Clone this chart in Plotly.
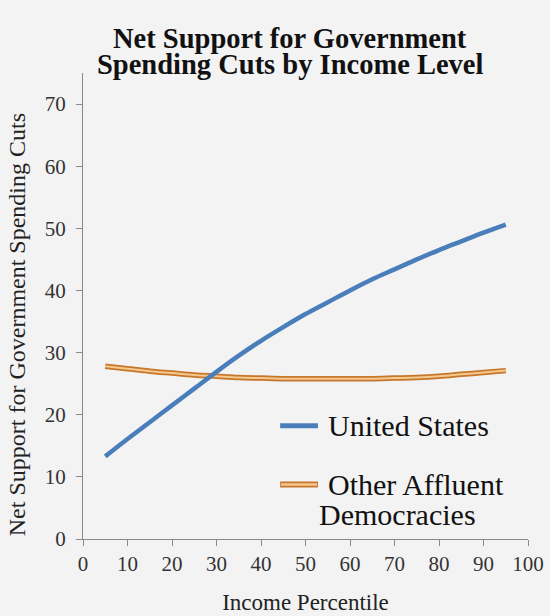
import plotly.graph_objects as go

# income percentile (x) and net support values
percentile = [5, 10, 15, 20, 25, 30, 35, 40, 45, 50, 55, 60, 65, 70, 75, 80, 85, 90, 95]
us_support = [13.3, 16.1, 18.8, 21.5, 24.2, 26.9, 29.5, 31.9, 34.1, 36.2,
              38.1, 40.0, 41.8, 43.4, 45.0, 46.5, 47.9, 49.3, 50.6]
other_support = [27.8, 27.4, 27.0, 26.7, 26.4, 26.2, 26.0, 25.9, 25.8, 25.8,
                 25.8, 25.8, 25.8, 25.9, 26.0, 26.2, 26.5, 26.8, 27.1]

x_ticks = list(range(0, 101, 10))
y_ticks = list(range(0, 71, 10))

title_lines = ["Net Support for Government", "Spending Cuts by Income Level"]

BG = "#F3F3F3"
BLUE = "#4A7EBB"
ORANGE_EDGE = "#C6772C"
ORANGE_FILL = "#F6C88C"
SERIF = "Liberation Serif"

fig = go.Figure()

fig.add_trace(go.Scatter(x=percentile, y=other_support, mode="lines",
                         line=dict(color=ORANGE_EDGE, width=5.5, shape="spline"),
                         showlegend=False, hoverinfo="skip"))
fig.add_trace(go.Scatter(x=percentile, y=other_support, mode="lines",
                         line=dict(color=ORANGE_FILL, width=2, shape="spline"),
                         name="Other Affluent Democracies", showlegend=False))
fig.add_trace(go.Scatter(x=percentile, y=us_support, mode="lines",
                         line=dict(color=BLUE, width=4.5, shape="spline"),
                         name="United States", showlegend=False))

# hand-made legend (the orange entry is a two-tone line)
legend_shapes = [
    dict(type="line", xref="paper", yref="paper", x0=0.443, x1=0.528, y0=0.243, y1=0.243,
         line=dict(color=BLUE, width=5)),
    dict(type="line", xref="paper", yref="paper", x0=0.443, x1=0.528, y0=0.117, y1=0.117,
         line=dict(color=ORANGE_EDGE, width=6)),
    dict(type="line", xref="paper", yref="paper", x0=0.445, x1=0.526, y0=0.117, y1=0.117,
         line=dict(color=ORANGE_FILL, width=2.5)),
]
legend_text = [
    dict(text="United States", x=0.546, y=0.243),
    dict(text="Other Affluent", x=0.546, y=0.117),
    dict(text="Democracies", x=0.526, y=0.053),
]

annotations = [dict(text=a["text"], x=a["x"], y=a["y"], xref="paper", yref="paper",
                    xanchor="left", yanchor="middle", showarrow=False,
                    font=dict(family=SERIF, size=30, color="#111111"))
               for a in legend_text]
# title as two annotations so the line spacing can be tight
for line, ty in zip(title_lines, [1.075, 1.018]):
    annotations.append(dict(text="<b>" + line + "</b>", x=0.465, y=ty,
                            xref="paper", yref="paper", xanchor="center", yanchor="middle",
                            showarrow=False,
                            font=dict(family=SERIF, size=28.5, color="#111111")))
# y axis title, placed a little below the plot centre as in the original
annotations.append(dict(text="Net Support for Government Spending Cuts", textangle=-90,
                        x=-0.148, y=0.459, xref="paper", yref="paper",
                        xanchor="center", yanchor="middle", showarrow=False,
                        font=dict(family=SERIF, size=24, color="#222222")))

fig.update_layout(
    width=550, height=616,
    paper_bgcolor=BG, plot_bgcolor=BG,
    margin=dict(l=83, r=22, t=73, b=77),
    font=dict(family=SERIF, color="#222222"),
    shapes=legend_shapes,
    annotations=annotations,
)

fig.update_xaxes(range=[0, 100], tickvals=x_ticks, ticks="outside", ticklen=6,
                 tickcolor="#888888", showline=True, linecolor="#888888", linewidth=1,
                 showgrid=False, zeroline=False, automargin=False,
                 tickfont=dict(family=SERIF, size=21, color="#333333"),
                 title=dict(text="Income Percentile", standoff=18,
                            font=dict(family=SERIF, size=23, color="#222222")))
fig.update_yaxes(range=[0, 75], tickvals=y_ticks, ticks="outside", ticklen=6,
                 tickcolor="#888888", showline=True, linecolor="#888888", linewidth=1,
                 showgrid=False, zeroline=False, automargin=False,
                 ticklabelstandoff=6,
                 tickfont=dict(family=SERIF, size=21, color="#333333"))

fig.write_html("out.html", config={"displayModeBar": False},
               post_script="document.body.style.margin='0';"
               "document.body.style.background='%s';" % BG)
